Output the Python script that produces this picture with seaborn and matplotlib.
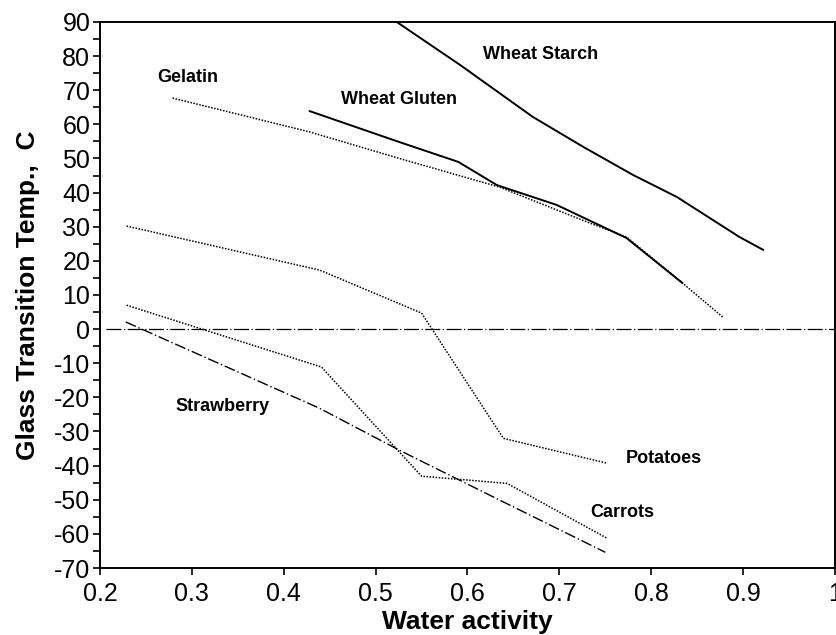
import numpy as np
import pandas as pd
import matplotlib
matplotlib.use('Agg')
import matplotlib.pyplot as plt
import seaborn as sns
from matplotlib.ticker import MultipleLocator

# values (water activity vs Tg, deg C)
starch_aw = [0.523, 0.592, 0.671, 0.726, 0.780, 0.828, 0.896, 0.922]
starch_tg = [90.0, 77.4, 62.2, 53.4, 45.2, 38.7, 27.0, 23.2]

gluten_aw = [0.428, 0.526, 0.590, 0.632, 0.697, 0.773, 0.834]
gluten_tg = [63.9, 54.8, 49.0, 42.2, 36.4, 26.7, 13.5]

gelatin_aw = [0.279, 0.428, 0.526, 0.635, 0.730, 0.773, 0.834, 0.878]
gelatin_tg = [67.7, 57.8, 50.0, 41.6, 31.4, 27.0, 13.5, 3.5]

potato_aw = [0.229, 0.439, 0.550, 0.639, 0.752]
potato_tg = [30.2, 17.3, 4.7, -32.0, -39.3]

carrot_aw = [0.229, 0.441, 0.550, 0.643, 0.752]
carrot_tg = [7.0, -11.1, -43.1, -45.2, -61.3]

straw_aw = [0.228, 0.439, 0.526, 0.635, 0.750]
straw_tg = [2.1, -23.2, -35.5, -50.1, -65.4]

zero_aw = [0.207, 1.0]
zero_tg = [0.0, 0.0]

series_names = ['Wheat Starch', 'Wheat Gluten', 'Gelatin', 'Potatoes', 'Carrots', 'Strawberry']
label_aw = [0.680, 0.525, 0.296, 0.814, 0.768, 0.333]
label_tg = [80.6, 67.4, 73.6, -37.8, -53.7, -22.6]

x_ticks = [0.2, 0.3, 0.4, 0.5, 0.6, 0.7, 0.8, 0.9, 1.0]
x_ticklabels = ['0.2', '0.3', '0.4', '0.5', '0.6', '0.7', '0.8', '0.9', '1']
y_ticks = list(range(-70, 91, 10))

sns.set_style('ticks')
plt.rcParams['font.family'] = ['Liberation Sans', 'DejaVu Sans']
plt.rcParams['axes.unicode_minus'] = False
plt.rcParams['text.color'] = 'black'
plt.rcParams['axes.labelcolor'] = 'black'
plt.rcParams['xtick.color'] = 'black'
plt.rcParams['ytick.color'] = 'black'
plt.rcParams['axes.edgecolor'] = 'black'

fig = plt.figure(figsize=(8.36, 6.35), dpi=100)
ax = fig.add_axes([0.1196, 0.1055, 0.8792, 0.8599])

solid = dict(color='black', lw=1.4)
dotted = dict(color='black', lw=1.1, linestyle=(0, (1, 1)))
dashdot = dict(color='black', lw=1.0, linestyle=(0, (8, 2, 1, 2)))

sns.lineplot(x=starch_aw, y=starch_tg, sort=False, ax=ax, **solid)
sns.lineplot(x=gelatin_aw, y=gelatin_tg, sort=False, ax=ax, **dotted)
sns.lineplot(x=gluten_aw, y=gluten_tg, sort=False, ax=ax, **solid)
sns.lineplot(x=potato_aw, y=potato_tg, sort=False, ax=ax, **dotted)
sns.lineplot(x=carrot_aw, y=carrot_tg, sort=False, ax=ax, **dotted)
sns.lineplot(x=straw_aw, y=straw_tg, sort=False, ax=ax, **dashdot)
sns.lineplot(x=zero_aw, y=zero_tg, sort=False, ax=ax, color='black', lw=0.9,
             linestyle=(0, (12, 2, 1, 2)))

for name, xa, ya in zip(series_names, label_aw, label_tg):
    ax.text(xa, ya, name, ha='center', va='center', fontsize=13, fontweight='bold',
            color='black')

ax.set_xlim(0.2, 1.0)
ax.set_ylim(-70, 90)
ax.set_xticks(x_ticks)
ax.set_xticklabels(x_ticklabels)
ax.set_yticks(y_ticks)
ax.yaxis.set_minor_locator(MultipleLocator(5))
ax.tick_params(axis='both', which='major', labelsize=18, length=5, width=1.2, pad=2,
               colors='black')
ax.tick_params(axis='x', which='major', pad=5)
ax.tick_params(axis='y', which='minor', length=5, width=1.2, colors='black')
for s in ax.spines.values():
    s.set_linewidth(1.4)
    s.set_color('black')

ax.set_xlabel('Water activity', fontsize=19, fontweight='bold', labelpad=3)
ax.set_ylabel('Glass Transition Temp.,  C', fontsize=19, fontweight='bold', labelpad=10)

fig.savefig('out.png', dpi=100)
